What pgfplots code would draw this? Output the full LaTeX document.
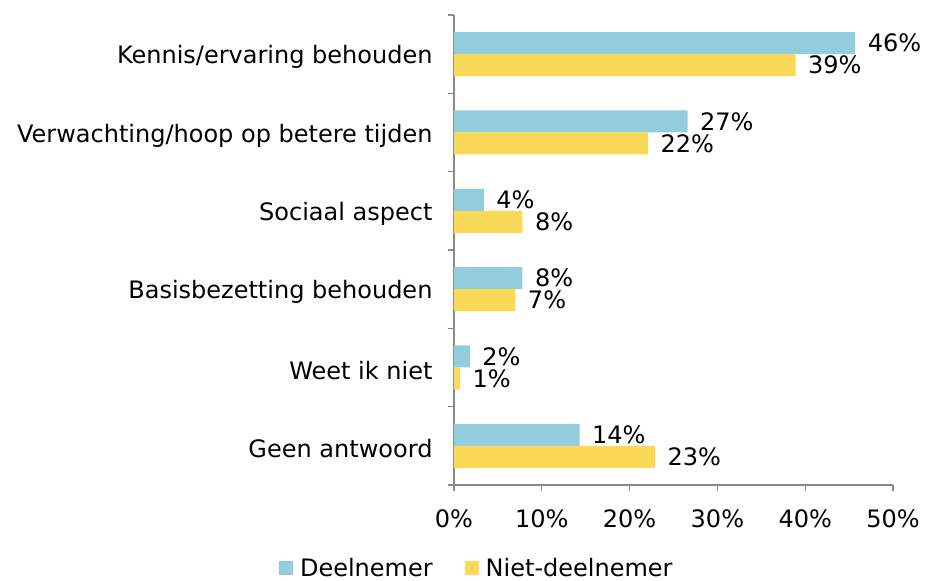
\documentclass[border=0pt]{standalone}
\usepackage{fontspec}
\setmainfont{DejaVu Sans}
\usepackage{pgfplots}
\pgfplotsset{compat=1.18}

\definecolor{deel}{RGB}{147,205,221}
\definecolor{niet}{RGB}{250,216,88}
\definecolor{axgray}{RGB}{137,137,137}

\begin{document}
\begin{tikzpicture}
\begin{axis}[
  name=ax,
  xbar=0pt,
  bar width=22pt,
  scale only axis,
  width=439pt,
  height=470pt,
  xmin=0, xmax=50,
  ymin=-0.5, ymax=5.5,
  axis x line*=bottom,
  axis y line*=left,
  axis line style={draw=axgray, line width=1.3pt},
  tick style={draw=axgray, line width=1.3pt},
  tick align=outside,
  major tick length=6pt,
  font=\fontsize{24}{28}\selectfont,
  xtick={0,10,...,50},
  xticklabel={\pgfmathprintnumber{\tick}\%},
  /pgf/number format/assume math mode=true,
  xticklabel style={yshift=-15pt},
  ytick={-0.5,0.5,...,5.5},
  yticklabels={,,,,,,},
  extra y ticks={0,1,2,3,4,5},
  extra y tick labels={Geen antwoord, Weet ik niet, Basisbezetting behouden, Sociaal aspect, Verwachting/hoop op betere tijden, Kennis/ervaring behouden},
  extra y tick style={major tick length=0pt, yticklabel style={xshift=-18pt, yshift=-3pt}},
  point meta=explicit symbolic,
  nodes near coords,
  every node near coord/.append style={anchor=west, xshift=9pt, font=\fontsize{24}{28}\selectfont},
  legend style={at={(0.052,-0.176)}, anchor=center, draw=none, inner sep=0pt,
    font=\fontsize{24}{28}\selectfont, legend columns=2,
    /tikz/every even column/.append style={column sep=30pt}},
  legend image code/.code={\fill[#1] (0pt,-7pt) rectangle (14pt,7pt); \path (19pt,0pt);},
]
\addplot[fill=deel, draw=none, bar shift=11pt] coordinates {
  (14.3,0) [14\%]
  (1.8,1) [2\%]
  (7.8,2) [8\%]
  (3.4,3) [4\%]
  (26.6,4) [27\%]
  (45.7,5) [46\%]
};
\addlegendentry{Deelnemer}
\addplot[fill=niet, draw=none, bar shift=-11pt] coordinates {
  (22.9,0) [23\%]
  (0.7,1) [1\%]
  (7.0,2) [7\%]
  (7.8,3) [8\%]
  (22.1,4) [22\%]
  (38.9,5) [39\%]
};
\addlegendentry{Niet-deelnemer}
\end{axis}
\pgfresetboundingbox
\path ([shift={(-454pt,-96pt)}]ax.south west) rectangle ([shift={(35pt,15pt)}]ax.north east);
\end{tikzpicture}
\end{document}
